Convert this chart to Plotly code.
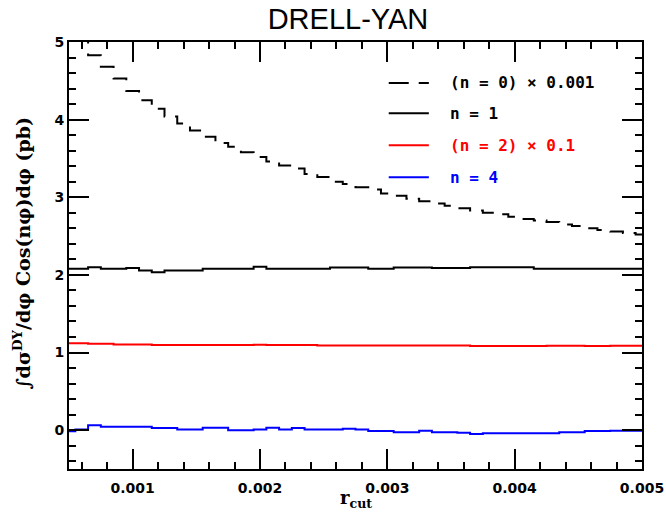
import plotly.graph_objects as go

# r_cut values (bin centres)
r_cut = [0.0005, 0.0006, 0.0007, 0.0008, 0.0009, 0.0010, 0.0011, 0.0012, 0.0013, 0.0014,
         0.0015, 0.0016, 0.0017, 0.0018, 0.0019, 0.0020, 0.0021, 0.0022, 0.0023, 0.0024,
         0.0025, 0.0026, 0.0027, 0.0028, 0.0029, 0.0030, 0.0031, 0.0032, 0.0033, 0.0034,
         0.0035, 0.0036, 0.0037, 0.0038, 0.0039, 0.0040, 0.0041, 0.0042, 0.0043, 0.0044,
         0.0045, 0.0046, 0.0047, 0.0048, 0.0049, 0.0050]

# (n = 0) x 0.001
n0 = [5.25, 5.03, 4.83, 4.68, 4.53, 4.37, 4.25, 4.14, 4.04, 3.95,
      3.86, 3.78, 3.70, 3.65, 3.58, 3.52, 3.46, 3.41, 3.37, 3.30,
      3.26, 3.20, 3.17, 3.13, 3.10, 3.05, 3.02, 2.98, 2.95, 2.92,
      2.89, 2.86, 2.83, 2.80, 2.78, 2.75, 2.72, 2.70, 2.68, 2.65,
      2.63, 2.60, 2.58, 2.56, 2.54, 2.52]

# n = 1
n1 = [2.08, 2.08, 2.10, 2.08, 2.08, 2.09, 2.057, 2.035, 2.057, 2.057,
      2.057, 2.078, 2.078, 2.078, 2.078, 2.105, 2.08, 2.08, 2.08, 2.08,
      2.08, 2.097, 2.097, 2.097, 2.08, 2.08, 2.097, 2.097, 2.097, 2.088,
      2.088, 2.088, 2.10, 2.10, 2.10, 2.10, 2.10, 2.08, 2.08, 2.08,
      2.08, 2.08, 2.08, 2.08, 2.08, 2.08]

# (n = 2) x 0.1
n2 = [1.12, 1.12, 1.112, 1.112, 1.105, 1.105, 1.105, 1.097, 1.097, 1.097,
      1.097, 1.097, 1.097, 1.097, 1.097, 1.10, 1.097, 1.097, 1.097, 1.097,
      1.09, 1.09, 1.09, 1.09, 1.09, 1.09, 1.09, 1.09, 1.09, 1.09,
      1.09, 1.09, 1.083, 1.083, 1.083, 1.083, 1.083, 1.083, 1.086, 1.086,
      1.086, 1.083, 1.083, 1.088, 1.088, 1.088]

# n = 4
n4 = [-0.015, 0.01, 0.065, 0.045, 0.045, 0.045, 0.045, 0.028, 0.028, 0.01,
      0.01, 0.032, 0.032, 0.0, 0.0, 0.01, 0.032, 0.01, 0.028, 0.01,
      0.01, 0.01, 0.02, 0.01, -0.012, -0.012, -0.026, -0.026, -0.008, -0.026,
      -0.026, -0.034, -0.048, -0.04, -0.04, -0.04, -0.04, -0.04, -0.04, -0.026,
      -0.026, -0.012, -0.012, -0.008, -0.008, -0.008]

legend_labels = ["(n = 0) × 0.001", "n = 1", "(n = 2) × 0.1", "n = 4"]
colors = ["black", "black", "red", "blue"]
dashes = ["15px,10px", "solid", "solid", "solid"]
legend_dashes = ["20px,10px", "solid", "solid", "solid"]
series = [n0, n1, n2, n4]

fig = go.Figure()
for vals, name, col, dsh in zip(series, legend_labels, colors, dashes):
    fig.add_trace(go.Scatter(x=r_cut, y=vals, mode="lines", name=name,
                             line=dict(color=col, width=2, dash=dsh, shape="hvh")))

axis_common = dict(showline=True, linecolor="black", linewidth=2, mirror="allticks",
                   ticks="inside", tickcolor="black", tickwidth=2, ticklen=20,
                   showgrid=False, zeroline=False, automargin=False,
                   tickfont=dict(family="DejaVu Sans", size=14, color="black", weight="bold"))

fig.update_xaxes(range=[0.0005, 0.005], tick0=0.001, dtick=0.001, ticklabelstandoff=5,
                 minor=dict(ticks="inside", ticklen=7, tickwidth=2, tickcolor="black",
                            dtick=0.0002, tick0=0.0, showgrid=False),
                 **axis_common)
fig.update_yaxes(range=[-0.5, 5], tick0=0, dtick=1,
                 minor=dict(ticks="inside", ticklen=7, tickwidth=2, tickcolor="black",
                            dtick=0.2, tick0=0, showgrid=False),
                 **axis_common)

# manual legend
row_y = [0.904, 0.833, 0.758, 0.683]
for lab, col, dsh, yy in zip(legend_labels, colors, legend_dashes, row_y):
    fig.add_shape(type="line", xref="paper", yref="paper", x0=0.558, x1=0.628, y0=yy, y1=yy,
                  line=dict(color=col, width=2, dash=dsh))
    fig.add_annotation(xref="paper", yref="paper", x=0.661, y=yy, xanchor="left", yanchor="middle",
                       text=lab, showarrow=False,
                       font=dict(family="DejaVu Sans Mono", size=16, color=col, weight="bold"))

# axis titles
fig.add_annotation(xref="paper", yref="paper", x=-0.082, y=0.505, textangle=-90,
                   xanchor="center", yanchor="middle", showarrow=False,
                   text="∫dσ<sup>DY</sup>/dφ Cos(nφ)dφ (pb)",
                   font=dict(family="DejaVu Serif", size=19, color="black", weight="bold"))
fig.add_annotation(xref="paper", yref="paper", x=0.5, y=-0.071, xanchor="center", yanchor="middle",
                   showarrow=False, text="r<sub>cut</sub>",
                   font=dict(family="DejaVu Serif", size=18, color="black", weight="bold"))

fig.update_layout(
    width=666, height=515,
    margin=dict(l=69, r=24, t=41.5, b=45.5, autoexpand=False),
    plot_bgcolor="white", paper_bgcolor="white",
    showlegend=False,
    title=dict(text="DRELL-YAN", x=0.5225, xanchor="center", y=0.963, yanchor="middle", yref="container",
               font=dict(family="Liberation Sans", size=29, color="black")),
)

fig.write_html("out.html")
